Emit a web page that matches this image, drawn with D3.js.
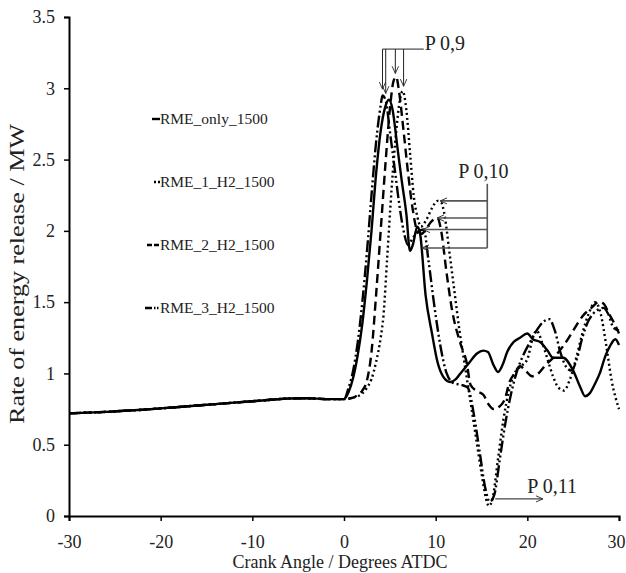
<!DOCTYPE html>
<html>
<head>
<meta charset="utf-8">
<script src="https://cdn.jsdelivr.net/npm/d3@7"></script>
<style>
  body { margin: 0; background: #fff; }
  svg { font-family: "Liberation Serif", "Times New Roman", serif; }
</style>
</head>
<body>
<svg id="chart" width="626" height="573"></svg>
<script>
// common baseline before ignition (all four runs overlap here)
let baseX = [-30, -28, -26, -24, -22, -20, -18, -16, -14, -12, -10, -8, -6, -4, -2, 0];
let baseY = [0.72, 0.725, 0.73, 0.738, 0.745, 0.755, 0.765, 0.775, 0.785, 0.795, 0.805, 0.815, 0.824, 0.826, 0.82, 0.82];

let onlyX = [0.5, 1, 1.5, 2, 2.5, 3, 3.5, 4, 4.5, 4.9, 5.3, 5.8, 6.3, 6.8, 7.2, 7.5, 8, 8.3, 8.9, 9.6, 10.2, 10.8, 11.6, 12.2, 12.7, 13.6, 14.5, 15.2, 15.7, 16.3, 16.8, 17.3, 17.8, 18.5, 19.2, 20, 20.6, 21.4, 22.2, 22.8, 23.9, 25, 25.8, 26.3, 26.8, 27.4, 27.9, 28.5, 29, 29.6, 30];
let onlyY = [0.87, 0.97, 1.13, 1.35, 1.65, 2.0, 2.4, 2.7, 2.87, 2.92, 2.85, 2.6, 2.35, 2.12, 1.86, 1.9, 2.03, 1.98, 1.55, 1.28, 1.08, 0.98, 0.94, 0.96, 1.0, 1.07, 1.14, 1.16, 1.15, 1.06, 1.01, 1.06, 1.15, 1.22, 1.25, 1.28, 1.24, 1.22, 1.16, 1.11, 1.11, 1.02, 0.9, 0.84, 0.86, 0.93, 1.0, 1.12, 1.19, 1.24, 1.2];

let h1X = [1, 2, 2.5, 3, 3.5, 4, 4.3, 4.7, 5.2, 5.7, 6.1, 6.4, 6.8, 7.2, 7.6, 8, 8.4, 9, 9.6, 10.2, 10.6, 11, 11.5, 12, 12.6, 13.2, 13.8, 14.4, 15, 15.5, 15.8, 16.2, 16.8, 17.4, 18, 18.6, 19.3, 20, 20.6, 21, 21.6, 22.2, 22.8, 23.4, 24, 24.6, 25.3, 26, 26.7, 27.4, 28, 28.6, 29.2, 30];
let h1Y = [0.83, 0.86, 0.9, 0.96, 1.08, 1.25, 1.4, 1.8, 2.3, 2.7, 2.92, 2.98, 2.85, 2.55, 2.25, 2.1, 2.03, 2.08, 2.16, 2.21, 2.2, 2.1, 1.85, 1.6, 1.3, 1.05, 0.8, 0.55, 0.3, 0.12, 0.07, 0.12, 0.4, 0.68, 0.88, 1.0, 1.05, 1.1, 1.25, 1.3, 1.22, 1.1, 0.98, 0.9, 0.88, 0.95, 1.1, 1.28, 1.42, 1.5, 1.42, 1.2, 0.95, 0.75];

let h2X = [1, 1.5, 2, 2.5, 3, 3.5, 4, 4.5, 5, 5.4, 5.7, 6, 6.5, 7, 7.5, 8, 8.5, 9, 9.6, 10.2, 10.6, 11.2, 11.8, 12.7, 13.4, 13.8, 14.4, 15.2, 15.8, 16.3, 17, 17.6, 18, 18.6, 19.2, 19.8, 20.5, 21.2, 22, 23, 24, 25, 26, 27, 27.8, 28.3, 28.9, 29.5, 30];
let h2Y = [0.83, 0.85, 0.88, 0.95, 1.15, 1.55, 2.0, 2.45, 2.85, 3.05, 3.08, 2.98, 2.7, 2.4, 2.15, 2.0, 1.98, 2.02, 2.07, 2.09, 2.0, 1.7, 1.44, 1.21, 1.07, 0.92, 0.88, 0.85, 0.78, 0.75, 0.77, 0.83, 0.93, 1.0, 1.05, 1.02, 0.98, 1.0, 1.06, 1.12, 1.2, 1.3, 1.4, 1.46, 1.5, 1.49, 1.42, 1.35, 1.28];

let h3X = [0.5, 1, 1.5, 2, 2.5, 3, 3.5, 4, 4.2, 4.6, 5, 5.5, 6, 6.5, 7, 7.5, 8.2, 8.7, 9.2, 9.8, 10.5, 11.2, 12, 12.8, 13.5, 14.2, 14.8, 15.4, 15.9, 16.4, 17, 17.6, 18.2, 18.8, 19.5, 20.3, 21, 21.7, 22.4, 23, 23.6, 24.2, 24.8, 25.4, 26, 26.6, 27.2, 27.8, 28.3, 28.8, 29.4, 30];
let h3Y = [0.9, 1.02, 1.22, 1.5, 1.85, 2.25, 2.62, 2.88, 2.95, 2.9, 2.7, 2.45, 2.2, 2.0, 1.9, 1.95, 2.0, 2.01, 1.8, 1.5, 1.2, 1.0, 0.93, 0.92, 0.9, 0.7, 0.45, 0.2, 0.1, 0.15, 0.4, 0.65, 0.85, 1.0, 1.12, 1.22, 1.3, 1.36, 1.38, 1.3, 1.15, 1.05, 1.02, 1.1, 1.25, 1.36, 1.42, 1.45, 1.46, 1.42, 1.32, 1.3];

let seriesNames = ["RME_only_1500", "RME_1_H2_1500", "RME_2_H2_1500", "RME_3_H2_1500"];
let xTicks = [-30, -20, -10, 0, 10, 20, 30];
let yTicks = [0, 0.5, 1, 1.5, 2, 2.5, 3, 3.5];

// annotation anchors, in data units
let p9Arrows = [[4.2, 2.98], [4.55, 2.95], [5.6, 3.09], [6.5, 3.0]];
let p10Arrows = [[10.5, 2.21], [10.15, 2.09], [8.6, 2.01], [8.5, 1.88]];

let svg = d3.select("#chart");
let mLeft = 69, mRight = 619, mTop = 17, mBottom = 516;

let x = d3.scaleLinear().domain([-30, 30]).range([mLeft, mRight]);
let y = d3.scaleLinear().domain([0, 3.5]).range([mBottom, mTop]);

// arrow head
svg.append("defs").append("marker")
    .attr("id", "arr")
    .attr("viewBox", "0 0 10 10")
    .attr("refX", 9).attr("refY", 5)
    .attr("markerWidth", 8).attr("markerHeight", 8)
    .attr("markerUnits", "userSpaceOnUse")
    .attr("orient", "auto")
    .append("path")
    .attr("d", "M0,1 L9,5 L0,9")
    .attr("fill", "none")
    .attr("stroke", "#333")
    .attr("stroke-width", 1.2);

// axes
let xAxis = d3.axisBottom(x).tickValues(xTicks).tickSize(5).tickPadding(14).tickFormat(d => String(d));
let gx = svg.append("g").attr("transform", "translate(0," + mBottom + ")").call(xAxis);
let yAxis = d3.axisLeft(y).tickValues(yTicks).tickSize(5).tickPadding(9).tickFormat(d => String(d));
let gy = svg.append("g").attr("transform", "translate(" + mLeft + ",0)").call(yAxis);

[gx, gy].forEach(function (g) {
    g.select(".domain").attr("stroke", "#000").attr("stroke-width", 2);
    g.selectAll(".tick line").attr("stroke", "#000").attr("stroke-width", 1.5);
    g.selectAll("text").attr("font-family", "Liberation Serif").attr("font-size", 18).attr("fill", "#222");
});
// last x label is pushed against the page edge, as in the source
gx.selectAll(".tick text").filter(d => d === 30).attr("text-anchor", "end").attr("dx", 6);

svg.append("text")
    .attr("x", (mLeft + mRight) / 2 - 4).attr("y", 568)
    .attr("text-anchor", "middle")
    .attr("font-size", 18).attr("fill", "#222")
    .text("Crank Angle / Degrees ATDC");

svg.append("text")
    .attr("transform", "translate(24,274) rotate(-90)")
    .attr("text-anchor", "middle")
    .attr("font-size", 20).attr("fill", "#222")
    .attr("textLength", 300).attr("lengthAdjust", "spacingAndGlyphs")
    .text("Rate of energy release / MW");

// lines
let styles = [
    {dash: null, width: 2.4},
    {dash: "2,3", width: 2.4},
    {dash: "9,5", width: 2.4},
    {dash: "12,3,2,3,2,3", width: 2.4}
];
let allX = [onlyX, h1X, h2X, h3X];
let allY = [onlyY, h1Y, h2Y, h3Y];

let line = d3.line()
    .x(d => x(d[0]))
    .y(d => y(d[1]))
    .curve(d3.curveMonotoneX);

let series = seriesNames.map(function (name, i) {
    let pts = baseX.map((v, j) => [v, baseY[j]]);
    allX[i].forEach((v, j) => pts.push([v, allY[i][j]]));
    return {name: name, pts: pts, style: styles[i]};
});

svg.append("g").selectAll("path")
    .data(series)
    .enter().append("path")
    .attr("d", d => line(d.pts))
    .attr("fill", "none")
    .attr("stroke", "#000")
    .attr("stroke-width", d => d.style.width)
    .attr("stroke-dasharray", d => d.style.dash);

// legend
let legend = svg.append("g").selectAll("g")
    .data(series)
    .enter().append("g")
    .attr("transform", (d, i) => "translate(160," + (124 + i * 63) + ")");
legend.append("line")
    .attr("x1", (d, i) => [-8, -6, -13, -15][i])
    .attr("x2", 0)
    .attr("y1", -5).attr("y2", -5)
    .attr("stroke", "#000")
    .attr("stroke-width", 2.4)
    .attr("stroke-dasharray", (d, i) => ["", "2,2", "5,2", "7,2,1.5,1.5,1.5,2"][i]);
legend.append("text")
    .attr("x", 0).attr("y", 0)
    .attr("font-size", 15.5).attr("fill", "#222")
    .text(d => d.name);

// annotations
let ann = svg.append("g").attr("fill", "none");

// P 0,9
ann.append("line")
    .attr("x1", x(4.2)).attr("x2", x(8.7))
    .attr("y1", y(3.275)).attr("y2", y(3.275))
    .attr("stroke", "#222").attr("stroke-width", 1);
ann.selectAll(".p9")
    .data(p9Arrows)
    .enter().append("line")
    .attr("x1", d => x(d[0])).attr("x2", d => x(d[0]))
    .attr("y1", y(3.275)).attr("y2", d => y(d[1]) - 2)
    .attr("stroke", "#222").attr("stroke-width", 1)
    .attr("marker-end", "url(#arr)");
svg.append("text")
    .attr("x", x(8.8)).attr("y", y(3.27))
    .attr("font-size", 20).attr("fill", "#222")
    .text("P 0,9");

// P 0,10
ann.append("line")
    .attr("x1", x(15.63)).attr("x2", x(15.63))
    .attr("y1", y(2.33)).attr("y2", y(1.88))
    .attr("stroke", "#555").attr("stroke-width", 1.6);
ann.selectAll(".p10")
    .data(p10Arrows)
    .enter().append("line")
    .attr("x1", x(15.63)).attr("x2", d => x(d[0]))
    .attr("y1", d => y(d[1])).attr("y2", d => y(d[1]))
    .attr("stroke", "#555").attr("stroke-width", 1.6)
    .attr("marker-end", "url(#arr)");
svg.append("text")
    .attr("x", x(12.45)).attr("y", y(2.37))
    .attr("font-size", 20).attr("fill", "#222")
    .text("P 0,10");

// P 0,11
ann.append("line")
    .attr("x1", x(16.5)).attr("x2", x(21.7))
    .attr("y1", y(0.12)).attr("y2", y(0.12))
    .attr("stroke", "#444").attr("stroke-width", 1.2)
    .attr("marker-end", "url(#arr)");
svg.append("text")
    .attr("x", x(20.0)).attr("y", y(0.16))
    .attr("font-size", 20).attr("fill", "#222")
    .text("P 0,11");
</script>
</body>
</html>
